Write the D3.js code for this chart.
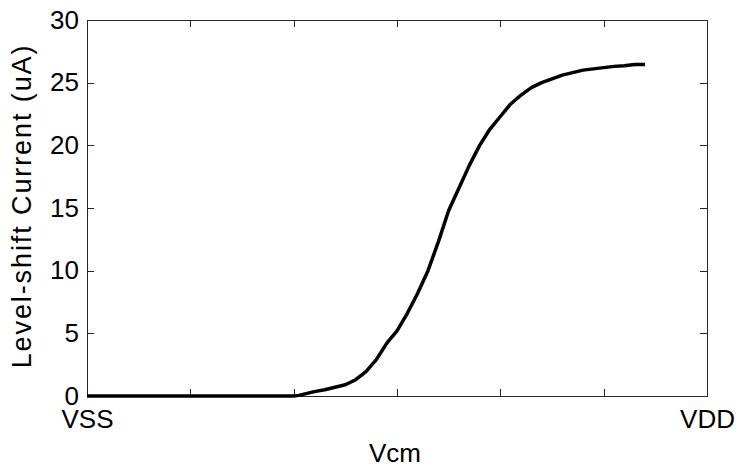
<!DOCTYPE html>
<html>
<head>
<meta charset="utf-8">
<script src="https://cdn.jsdelivr.net/npm/d3@7"></script>
<style>
  html, body { margin: 0; padding: 0; background: #fff; }
  svg { display: block; font-family: "Liberation Sans", Arial, Helvetica, sans-serif; }
</style>
</head>
<body>
<svg id="chart" width="738" height="470"></svg>
<script>
// Data (x in normalized Vcm steps: 0 = VSS, 6 = VDD)
const vcm = [0, 1, 2.0, 2.05, 2.1, 2.2, 2.3, 2.4, 2.5, 2.6, 2.7, 2.8, 2.9, 3.0, 3.1, 3.2, 3.3, 3.4, 3.5, 3.6, 3.7, 3.8, 3.9, 4.0, 4.1, 4.2, 4.3, 4.4, 4.5, 4.6, 4.7, 4.8, 4.9, 5.0, 5.1, 5.2, 5.3, 5.4];
const current = [0, 0, 0, 0.05, 0.15, 0.35, 0.5, 0.7, 0.9, 1.3, 1.95, 2.9, 4.2, 5.2, 6.6, 8.2, 10.0, 12.3, 14.8, 16.6, 18.4, 20.0, 21.3, 22.3, 23.3, 24.0, 24.6, 25.0, 25.3, 25.6, 25.8, 26.0, 26.1, 26.2, 26.3, 26.35, 26.45, 26.45];
const xTickValues = [0, 1, 2, 3, 4, 5, 6];
const xTickLabels = ["VSS", "", "", "", "", "", "VDD"];
const yTickValues = [0, 5, 10, 15, 20, 25, 30];
const xLabel = "Vcm";
const yLabel = "Level-shift Current (uA)";

const svg = d3.select("#chart");
const m = { left: 87, right: 707, top: 20, bottom: 396 };
const x = d3.scaleLinear().domain([0, 6]).range([m.left, m.right]);
const y = d3.scaleLinear().domain([0, 30]).range([m.bottom, m.top]);
const axisColor = "#262626";
const fs = 26;
const tickLen = 7;

// Box
svg.append("rect")
  .attr("x", m.left).attr("y", m.top)
  .attr("width", m.right - m.left).attr("height", m.bottom - m.top)
  .attr("fill", "none").attr("stroke", axisColor).attr("stroke-width", 1)
  .attr("shape-rendering", "crispEdges");

// Axes (ticks inward)
const gx = svg.append("g").attr("transform", `translate(0,${m.bottom})`)
  .call(d3.axisBottom(x).tickValues(xTickValues).tickSizeInner(-tickLen).tickSizeOuter(0)
    .tickPadding(8).tickFormat((d, i) => xTickLabels[i]));
const gxTop = svg.append("g").attr("transform", `translate(0,${m.top})`)
  .call(d3.axisTop(x).tickValues(xTickValues).tickSizeInner(-tickLen).tickSizeOuter(0).tickFormat(""));
const gy = svg.append("g").attr("transform", `translate(${m.left},0)`)
  .call(d3.axisLeft(y).tickValues(yTickValues).tickSizeInner(-tickLen).tickSizeOuter(0)
    .tickPadding(8).tickFormat(d3.format("d")));
const gyR = svg.append("g").attr("transform", `translate(${m.right},0)`)
  .call(d3.axisRight(y).tickValues(yTickValues).tickSizeInner(-tickLen).tickSizeOuter(0).tickFormat(""));

[gx, gxTop, gy, gyR].forEach(g => {
  g.select(".domain").remove();
  g.selectAll(".tick line").attr("stroke", axisColor).attr("shape-rendering", "crispEdges");
  g.selectAll(".tick text").attr("fill", "#000").attr("font-size", fs)
    .attr("font-family", "'Liberation Sans', Arial, sans-serif");
});
gx.selectAll(".tick text").attr("dy", "0.71em").attr("y", 14);

// Line
const line = d3.line().x((d, i) => x(vcm[i])).y(d => y(d));
svg.append("path")
  .datum(current)
  .attr("d", line)
  .attr("fill", "none")
  .attr("stroke", "#000")
  .attr("stroke-width", 3.5)
  .attr("stroke-linejoin", "round");

// Axis labels
svg.append("text")
  .attr("x", (m.left + m.right) / 2 - 2)
  .attr("y", 462)
  .attr("text-anchor", "middle")
  .attr("font-size", fs)
  .text(xLabel);

svg.append("text")
  .attr("transform", `translate(31,206) rotate(-90)`)
  .attr("text-anchor", "middle")
  .attr("font-size", 27)
  .attr("letter-spacing", 1.9)
  .text(yLabel);
</script>
</body>
</html>
